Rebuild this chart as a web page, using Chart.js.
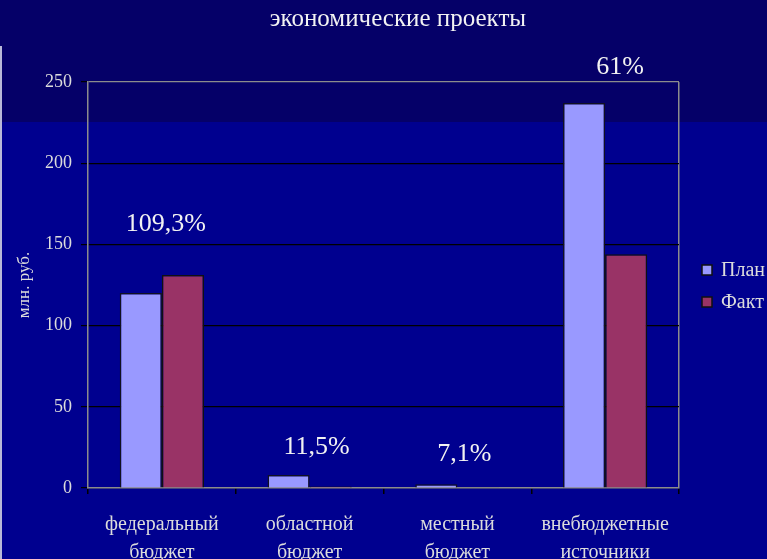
<!DOCTYPE html>
<html>
<head>
<meta charset="utf-8">
<script src="https://cdn.jsdelivr.net/npm/chart.js@4/dist/chart.umd.min.js"></script>
<style>
  html, body { margin: 0; padding: 0; background: #00008f; }
  #wrap { width: 767px; height: 559px; position: relative; }
</style>
</head>
<body>
<div id="wrap"><canvas id="projChart" width="767" height="559"></canvas></div>
<script>
// data
const categories = [
  ["федеральный", "бюджет"],
  ["областной", "бюджет"],
  ["местный", "бюджет"],
  ["внебюджетные", "источники"]
];
const planValues = [120, 8, 2.3, 237];
const factValues = [131.2, 0.92, 0.16, 144];
const percentLabels = ["109,3%", "11,5%", "7,1%", "61%"];
const seriesNames = ["План", "Факт"];
const yMin = 0, yMax = 250, yStep = 50;

const serif = "'Liberation Serif', 'DejaVu Serif', serif";
const textColor = "#dcdcdc";

// slide background: darker band on top, lighter blue below
const backdrop = {
  id: "backdrop",
  beforeDraw(chart) {
    const c = chart.ctx;
    c.save();
    c.fillStyle = "#00008f";
    c.fillRect(0, 0, chart.width, chart.height);
    c.fillStyle = "#050068";
    c.fillRect(0, 0, chart.width, 122);
    c.fillStyle = "#b8b8d8";
    c.fillRect(0, 46, 2, chart.height - 46);
    c.restore();
  }
};

// title, percent notes and legend drawn on top
const notes = {
  id: "notes",
  afterDraw(chart) {
    const c = chart.ctx;
    const xs = chart.scales.x, ys = chart.scales.y;
    c.save();
    c.fillStyle = "#f2f2f2";
    c.textAlign = "center";
    c.textBaseline = "middle";
    c.font = "25px " + serif;
    c.fillText("экономические проекты", 398, 19);

    const dx = [4, 7, 7, 15];
    const dy = [-51, -28, -30, -36];
    c.font = "26px " + serif;
    percentLabels.forEach((txt, i) => {
      const top = ys.getPixelForValue(Math.max(planValues[i], factValues[i]));
      c.fillText(txt, xs.getPixelForValue(i) + dx[i], top + dy[i]);
    });

    // legend
    c.textAlign = "left";
    c.font = "20px " + serif;
    const rows = [270, 302];
    chart.data.datasets.forEach((ds, i) => {
      c.fillStyle = ds.backgroundColor;
      c.fillRect(702, rows[i] - 5, 10, 10);
      c.strokeStyle = "#111";
      c.lineWidth = 1.5;
      c.strokeRect(702, rows[i] - 5, 10, 10);
      c.fillStyle = textColor;
      c.fillText(ds.label, 721, rows[i] + 1);
    });
    c.restore();
  }
};

new Chart(document.getElementById("projChart"), {
  type: "bar",
  data: {
    labels: categories,
    datasets: [{
      label: seriesNames[0],
      data: planValues,
      backgroundColor: "#9999ff",
      borderColor: "#111122",
      borderWidth: 1.5,
      categoryPercentage: 0.57,
      barPercentage: 1
    }, {
      label: seriesNames[1],
      data: factValues,
      backgroundColor: "#993366",
      borderColor: "#111111",
      borderWidth: 1.5,
      categoryPercentage: 0.57,
      barPercentage: 1
    }]
  },
  options: {
    responsive: false,
    animation: false,
    layout: { padding: { top: 82, right: 88, left: 0, bottom: 0 } },
    plugins: {
      legend: { display: false },
      title: { display: false },
      tooltip: { enabled: false }
    },
    scales: {
      x: {
        afterFit(scale) { scale.height = 71; },
        border: { display: true, color: "#8c8c8c", width: 1.5 },
        grid: {
          offset: true,
          drawOnChartArea: true,
          color: ctx => ctx.type === "scale" ? "#8c8c8c" : "rgba(0,0,0,0)",
          lineWidth: 1.5,
          tickColor: "#000000",
          tickLength: 6
        },
        ticks: {
          color: textColor,
          padding: 17,
          font: { family: serif, size: 20, lineHeight: 1.4 }
        }
      },
      y: {
        min: yMin,
        max: yMax,
        afterFit(scale) { scale.width = 88; },
        border: { display: true, color: "#8c8c8c", width: 1.5 },
        grid: {
          color: ctx => (ctx.tick && (ctx.tick.value === yMax)) ? "#8c8c8c" : "#000000",
          lineWidth: 1.2,
          tickColor: "#000000",
          tickLength: 7
        },
        ticks: {
          stepSize: yStep,
          color: textColor,
          padding: 9,
          font: { family: serif, size: 18 }
        },
        title: {
          display: true,
          text: "млн. руб.",
          color: textColor,
          padding: { top: 14, bottom: 0 },
          font: { family: serif, size: 17 }
        }
      }
    }
  },
  plugins: [backdrop, notes]
});
</script>
</body>
</html>
